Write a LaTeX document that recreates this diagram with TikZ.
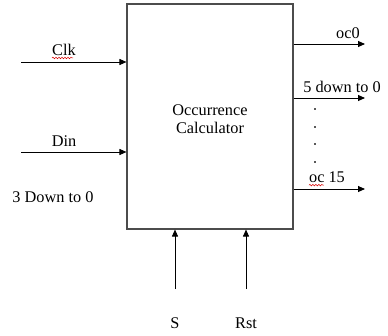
\documentclass[tikz,border=0pt]{standalone}
\usepackage{fontspec}
\setmainfont{Liberation Serif}
\usetikzlibrary{arrows.meta,decorations.pathmorphing}
\begin{document}
\begin{tikzpicture}[x=1pt,y=-1pt,
  lbl/.style={inner sep=0pt,font=\fontsize{16.3}{18.5}\selectfont},
  arr/.style={line width=0.9pt,-{Triangle[length=7pt,width=6pt]}},
  blockbox/.style={draw=black!70,line width=1.1pt,minimum width=166pt,minimum height=225pt,inner sep=0pt},
  squiggle/.style={red!85!black,line width=0.5pt,decorate,decoration={snake,amplitude=0.8pt,segment length=3pt}},
  dotmark/.style={fill=black!65,inner sep=0pt,minimum size=1.8pt,rectangle}]
\useasboundingbox (0,0) rectangle (388,335);

% main block
\node[blockbox] (blk) at (210,116.5) {};
\node[lbl,align=center] (title) at (210,119) {Occurrence\\Calculator};

% inputs on the left
\coordinate (clkin) at (21,62);
\coordinate (dinin) at (21,152);
\draw[arr] (clkin) -- (clkin -| blk.west);
\draw[arr] (dinin) -- (dinin -| blk.west);
\node[lbl] (lclk) at (64,50) {Clk};
\node[lbl] (ldin) at (64,141) {Din};
\node[lbl] (lwidth) at (53,197) {3 Down to 0};
\draw[squiggle] (lclk.south west) ++(0,2) -- ++(21,0);

% outputs on the right
\coordinate (oczero) at (365,44);
\coordinate (ocmid) at (365,98);
\coordinate (ocfifteen) at (365,189);
\draw[arr] (oczero -| blk.east) -- (oczero);
\draw[arr] (ocmid -| blk.east) -- (ocmid);
\draw[arr] (ocfifteen -| blk.east) -- (ocfifteen);
\node[lbl] (loc0) at (348,33) {oc0};
\node[lbl] (lbus) at (342,87) {5 down to 0};
\node[lbl] (loc15) at (327,177) {oc 15};
\draw[squiggle] (loc15.south west) ++(0,2.5) -- ++(15,0);
\node[dotmark] (d1) at (315,109) {};
\node[dotmark] (d2) at (315,127) {};
\node[dotmark] (d3) at (315,144) {};
\node[dotmark] (d4) at (315,162) {};

% control inputs at the bottom
\coordinate (sin) at (175,289);
\coordinate (rstin) at (246,289);
\draw[arr] (sin) -- (sin |- blk.south);
\draw[arr] (rstin) -- (rstin |- blk.south);
\node[lbl] (ls) at (175,323) {S};
\node[lbl] (lrst) at (246,323) {Rst};
\end{tikzpicture}
\end{document}
